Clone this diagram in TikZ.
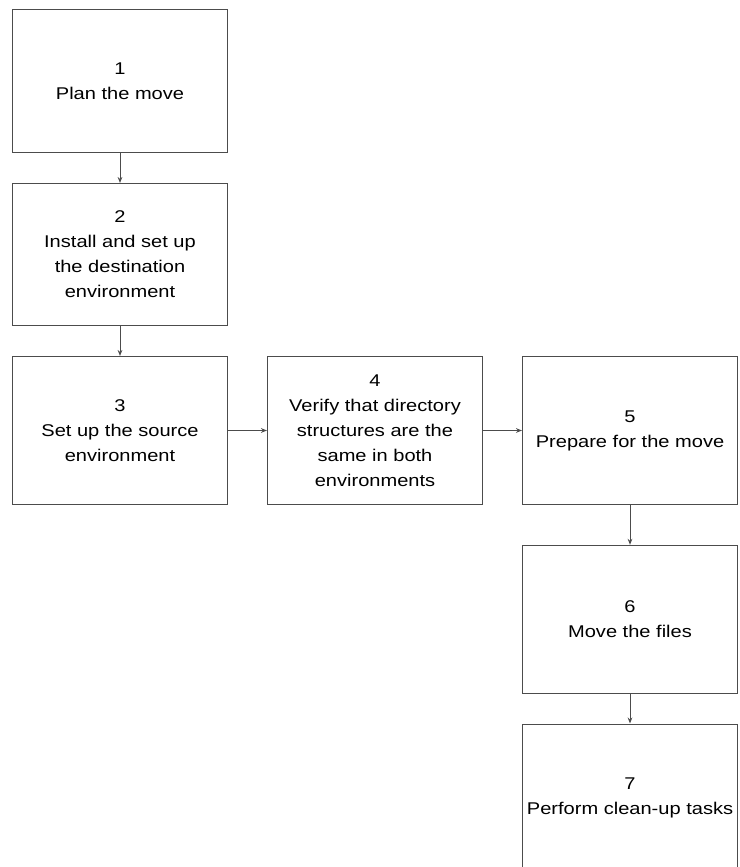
\documentclass[tikz,border=0pt]{standalone}
\usepackage{fontspec}
\setmainfont{Liberation Sans}[FakeStretch=1.18]
\usetikzlibrary{arrows.meta}

\begin{document}
\begin{tikzpicture}[x=0.75pt,y=-0.75pt,
		>={Stealth[length=4.5pt,width=3.5pt]},
		stagebox/.style={draw=black!70,line width=0.75pt,minimum width=161.25pt,inner sep=2pt,align=center,font=\fontsize{12.75}{18.75}\selectfont},
		flow/.style={->,draw=black!70,line width=0.75pt}]
			\path[use as bounding box,clip] (0,0) rectangle (739,867);

			\node[stagebox,minimum height=107pt] (PlanMove) at (120,81) {1\\Plan the move};
			\node[stagebox,minimum height=106.5pt] (SetupDest) at (120,254.5) {2\\Install and set up\\the destination\\environment};
			\node[stagebox,minimum height=111pt] (SetupSource) at (120,430.5) {3\\Set up the source\\environment};
			\node[stagebox,minimum height=111pt] (VerifyDirs) at (375,430.5) {4\\Verify that directory\\structures are the\\same in both\\environments};
			\node[stagebox,minimum height=111pt] (PrepareMove) at (630,430.5) {5\\Prepare for the move};
			\node[stagebox,minimum height=111pt] (MoveFiles) at (630,619.3) {6\\Move the files};
			\node[stagebox,minimum height=111pt] (CleanUp) at (630,798) {7\\Perform clean-up tasks};

			\draw[flow] (PlanMove) to (SetupDest);
			\draw[flow] (SetupDest) to (SetupSource);
			\draw[flow] (SetupSource) to (VerifyDirs);
			\draw[flow] (VerifyDirs) to (PrepareMove);
			\draw[flow] (PrepareMove) to (MoveFiles);
			\draw[flow] (MoveFiles) to (CleanUp);

\end{tikzpicture}
\end{document}
